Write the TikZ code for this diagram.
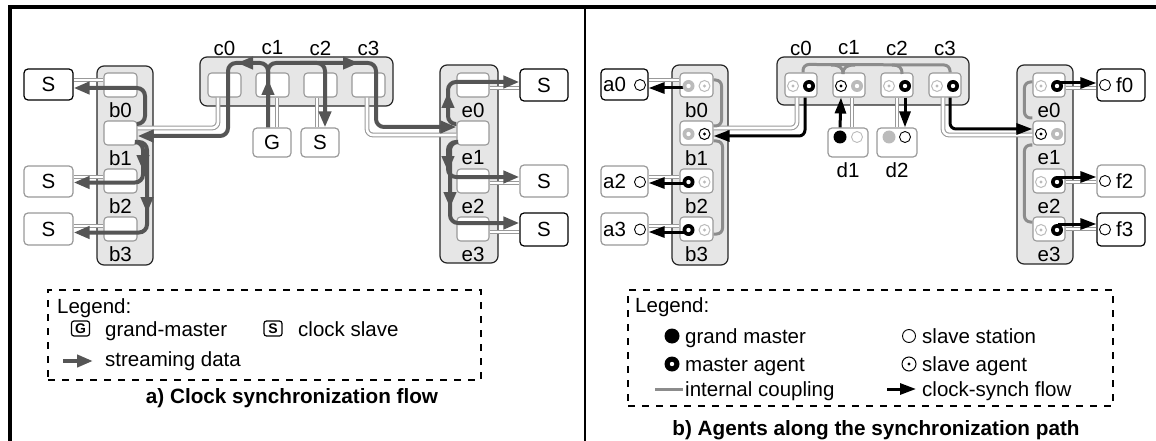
\documentclass[tikz,border=0pt]{standalone}
\usepackage{fontspec}
\setmainfont{Liberation Sans}
\usetikzlibrary{arrows.meta}
\definecolor{flowc}{HTML}{555555}
\definecolor{contfill}{HTML}{E6E6E6}
\definecolor{boxg}{HTML}{999999}
\definecolor{agray}{HTML}{BBBBBB}
\definecolor{coupc}{HTML}{8C8C8C}
\tikzset{
 txt/.style={font=\fontsize{20.5}{24}\selectfont},
 lab/.style={txt, inner sep=0pt},
 cont/.style={draw=black!85, fill=contfill, rounded corners=7pt, line width=1.2pt, inner sep=0pt},
 ibox/.style={draw=boxg, fill=white, rounded corners=3.5pt, line width=1.1pt, minimum width=33pt, minimum height=24pt, inner sep=0pt},
 stn/.style={txt, draw=black, fill=white, rounded corners=4pt, line width=1.2pt, minimum width=48pt, minimum height=31pt, inner sep=0pt},
 stng/.style={stn, draw=boxg},
 cable/.style={draw=boxg, double=white, double distance=2.6pt, line width=1.1pt, rounded corners=6pt},
 flow/.style={draw=flowc, line width=4pt, rounded corners=8pt, -{Triangle[length=16pt,width=12pt]}},
 fhead/.style={draw=flowc, line width=4pt, -{Triangle[length=16pt,width=12pt]}},
 synch/.style={draw=black, line width=3pt, rounded corners=6pt, -{Triangle[length=16pt,width=11pt]}},
 coup/.style={draw=coupc, line width=3pt, rounded corners=6pt},
 magent/.style={circle, fill=black, minimum size=12pt, inner sep=0pt, path picture={\fill[white] (path picture bounding box.center) circle (2.2pt);}},
 magentg/.style={magent, fill=agray},
 sagent/.style={circle, draw=black, line width=1pt, fill=white, minimum size=11pt, inner sep=0pt, path picture={\fill[black] (path picture bounding box.center) circle (1.6pt);}},
 sagentg/.style={circle, draw=agray, line width=1pt, fill=white, minimum size=11pt, inner sep=0pt, path picture={\fill[agray] (path picture bounding box.center) circle (1.6pt);}},
 gmaster/.style={circle, fill=black, minimum size=13pt, inner sep=0pt},
 sstation/.style={circle, draw=black, line width=0.9pt, fill=white, minimum size=11pt, inner sep=0pt},
 legbox/.style={draw=black, line width=1.6pt, dash pattern=on 7pt off 7pt, inner sep=0pt},
 icon/.style={draw=black, rounded corners=2.5pt, line width=1.2pt, minimum width=18pt, minimum height=15pt, inner sep=0pt, font=\bfseries\fontsize{14}{14}\selectfont},
 ttl/.style={font=\bfseries\fontsize{20.7}{24}\selectfont, inner sep=0pt},
}
\begin{document}
\begin{tikzpicture}[x=1pt,y=-1pt]
\useasboundingbox (0,0) rectangle (1156,441);
% frame
\draw[line width=4pt] (10,441) -- (10,7) -- (1156,7);
\draw[line width=1.2pt] (585,9) -- (585,441);

% ================= panel a =================
\node[cont, minimum width=56pt, minimum height=199pt] (bA) at (125,165.5) {};
\node[cont, minimum width=193pt, minimum height=49pt] (cA) at (296.5,81.5) {};
\node[cont, minimum width=58pt, minimum height=198pt] (eA) at (469,164) {};
\foreach \i/\y in {0/85,1/133,2/181,3/229}{
  \node[ibox] (ab\i) at (120.5,\y) {};
  \node[lab] (lab\i) at (120.5,\y+25) {b\i};
  \node[ibox, minimum width=32pt] (ae\i) at (473,\y) {};
  \node[lab] (lae\i) at (473,\y+25) {e\i};
}
\foreach \i/\x in {0/224.5,1/272.5,2/320.5,3/368.5}{
  \node[ibox] (ac\i) at (\x,85) {};
  \node[lab] (lac\i) at (\x,48) {c\i};
}
\node[stn, minimum width=49pt] (aS0) at (48.5,84.5) {S};
\node[stng, minimum width=49pt] (aS2) at (48.5,181.5) {S};
\node[stng, minimum width=49pt, minimum height=32pt] (aS3) at (48.5,229) {S};
\node[stng, minimum width=38pt, minimum height=29pt] (aG) at (272,142.5) {G};
\node[stng, minimum width=38pt, minimum height=29pt] (aSc) at (320,142.5) {S};
\node[stn, minimum height=32pt] (aSe0) at (544,85) {S};
\node[stng, minimum height=32pt] (aSe2) at (544,181) {S};
\node[stn, minimum height=33pt] (aSe3) at (544,229.5) {S};

% cables
\draw[cable] ([yshift=5pt]ab0.west) -- ([yshift=4.5pt]aS0.east);
\draw[cable] ([yshift=4pt]ab2.west) -- ([yshift=4.5pt]aS2.east);
\draw[cable] ([yshift=3pt]ab3.west) -- ([yshift=3pt]aS3.east);
\draw[cable] ([yshift=5pt]ab1.east) -| ([xshift=-6.5pt]ac0.south);
\draw[cable] ([xshift=5pt]aG.north) -- ([xshift=4.5pt]ac1.south);
\draw[cable] ([xshift=-3pt]aSc.north) -- ([xshift=-3.5pt]ac2.south);
\draw[cable] ([xshift=-1.5pt]ac3.south) |- ([yshift=-2pt]ae1.west);
\draw[cable] ([yshift=-3pt]ae0.east) -- ([yshift=-3pt]aSe0.west);
\draw[cable] ([yshift=-2pt]ae2.east) -- ([yshift=-2pt]aSe2.west);
\draw[cable] ([yshift=-3pt]ae3.east) -- ([yshift=-2.5pt]aSe3.west);

% streaming flows
\draw[flow] ([xshift=-4pt]aG.north) -- (268,63) -- (376,63) -- (376,127) -- ([yshift=6pt]ae1.west);
\draw[flow] (268,105) -- (268,63) -- (228,63) -- (228,136) -- ([yshift=-3pt]ab1.east);
\draw[flow] (300,63) -- (325,63) -- ([xshift=5pt]aSc.north);
\draw[fhead] (268,100) -- (268,79);
\draw[fhead] (256,63) -- (237,63);
\draw[fhead] (340,63) -- (359,63);
\draw[flow] ([yshift=9pt]ab1.east) -| (145,88) -- ([yshift=-3.5pt]aS0.east);
\draw[flow] ([yshift=-9pt]ab1.east) -| (143,182.5) -- ([yshift=-1pt]aS2.east);
\draw[flow] ([yshift=-9pt]ab1.east) -| (147,232.5) -- ([yshift=-3.5pt]aS3.east);
\draw[fhead] (143,150) -- (143,171);
\draw[fhead] (147,193) -- (147,213);
\draw[flow] ([yshift=9pt]ae1.west) -| (448,82) -- ([yshift=3pt]aSe0.west);
\draw[flow] ([yshift=-9pt]ae1.west) -| (448,177) -- ([yshift=4pt]aSe2.west);
\draw[flow] ([yshift=-9pt]ae1.west) -| (450,223) -- ([yshift=6.5pt]aSe3.west);
\draw[fhead] (448,110) -- (448,92);
\draw[fhead] (448,153) -- (448,172);
\draw[fhead] (450,190) -- (450,208);

% legend a
\node[legbox, minimum width=433pt, minimum height=90pt] (legA) at (264.5,335) {};
\node[lab, anchor=base west] (lgA) at (57,313) {Legend:};
\node[icon] (iG) at (80.5,328.5) {G};
\node[lab, anchor=base west] (tG) at (105,336) {grand-master};
\node[icon] (iS) at (273,328.5) {S};
\node[lab, anchor=base west] (tS) at (298,336) {clock slave};
\draw[fhead] (63,361) -- (93,361);
\node[lab, anchor=base west] (tF) at (105,366) {streaming data};
\node[ttl] (tA) at (292,398) {a) Clock synchronization flow};

% ================= panel b =================
\node[cont, minimum width=56pt, minimum height=200pt] (bB) at (700,165) {};
\node[cont, minimum width=192pt, minimum height=48pt] (cB) at (873,81) {};
\node[cont, minimum width=56pt, minimum height=199pt] (eB) at (1045,164.5) {};
\foreach \i/\y in {0/85,1/133,2/181,3/229}{
  \node[ibox] (bb\i) at (696.5,\y) {};
  \node[lab] (lbb\i) at (696.5,\y+25) {b\i};
  \node[ibox, minimum width=32pt] (be\i) at (1049,\y) {};
  \node[lab] (lbe\i) at (1049,\y+25) {e\i};
}
\foreach \i/\x in {0/801,1/849,2/897,3/945}{
  \node[ibox, minimum width=32pt] (bc\i) at (\x,85) {};
  \node[lab] (lbc\i) at (\x,48) {c\i};
}
\node[stn, minimum width=47pt] (a0) at (624.5,84.5) {};
\node[stng, minimum width=47pt] (a2) at (624.5,181.5) {};
\node[stng, minimum width=47pt, minimum height=32pt] (a3) at (624.5,229) {};
\node[stng, minimum width=40pt, minimum height=29pt] (d1) at (848,142.5) {};
\node[stng, minimum width=40pt, minimum height=29pt] (d2) at (897,142.5) {};
\node[stn, minimum height=32pt] (f0) at (1121,85) {};
\node[stng, minimum height=32pt] (f2) at (1121,181) {};
\node[stn, minimum height=33pt] (f3) at (1121,229.5) {};
\node[lab] (ld1) at (848,170) {d1};
\node[lab] (ld2) at (897,170) {d2};

% cables
\draw[cable] ([yshift=5pt]bb0.west) -- ([yshift=4.5pt]a0.east);
\draw[cable] ([yshift=4pt]bb2.west) -- ([yshift=4.5pt]a2.east);
\draw[cable] ([yshift=3pt]bb3.west) -- ([yshift=3pt]a3.east);
\draw[cable] ([xshift=-4pt]bc0.south) |- ([yshift=5pt]bb1.east);
\draw[cable] ([xshift=4pt]d1.north) -- ([xshift=3pt]bc1.south);
\draw[cable] (d2.north) -- (bc2.south);
\draw[cable] ([xshift=-2pt]bc3.south) |- ([yshift=-2pt]be1.west);
\draw[cable] ([yshift=-3pt]be0.east) -- ([yshift=-3pt]f0.west);
\draw[cable] ([yshift=-1pt]be2.east) -- ([yshift=-1pt]f2.west);
\draw[cable] (be3.east) -- ([yshift=0.5pt]f3.west);

% internal couplings
\draw[coup] ([yshift=5pt]bb0.east) -- ++(8,0) -- ++(0,46) -- ++(-8,0);
\draw[coup] ([yshift=-8pt]bb1.east) -- ++(9,0) -- ++(0,93) -- ++(-9,0);
\draw[coup] ([yshift=3pt]be0.west) -- ++(-8,0) -- ++(0,36) -- ++(8,0);
\draw[coup] ([yshift=-12pt]be1.west) -- ++(-8,0) -- ++(0,77) -- ++(8,0);
\draw[coup] ([xshift=2pt]bc0.north) -- ++(0,-8) -- (950,65) -- ([xshift=5pt]bc3.north);
\draw[coup] (831,65) .. controls (839,65) and (843,67) .. (843,74);
\draw[coup] (855,65) .. controls (847,65) and (843,67) .. (843,74);
\draw[coup] (892,65) .. controls (899,65) and (902,67) .. (902,74);

% clock synch flow
\draw[synch] ([xshift=4pt]bc0.south) |- ([yshift=-3pt]bb1.east);
\draw[synch] ([xshift=-8pt]d1.north) -- ([xshift=-8pt]bc1.south);
\draw[synch] ([xshift=8pt]bc2.south) -- ([xshift=8pt]d2.north);
\draw[synch] ([xshift=5pt]bc3.south) |- ([yshift=4pt]be1.west);
\draw[synch] ([xshift=8pt,yshift=-3pt]bb0.west) -- ([yshift=-3.5pt]a0.east);
\draw[synch] ([xshift=8pt,yshift=-2pt]bb2.west) -- ([yshift=-1.5pt]a2.east);
\draw[synch] ([xshift=8pt,yshift=-3pt]bb3.west) -- ([yshift=-3pt]a3.east);
\draw[synch] ([xshift=-8pt,yshift=2pt]be0.east) -- ([yshift=2pt]f0.west);
\draw[synch] ([xshift=-8pt,yshift=4pt]be2.east) -- ([yshift=4pt]f2.west);
\draw[synch] ([xshift=-8pt,yshift=5pt]be3.east) -- ([yshift=5.5pt]f3.west);

% agents
\node[magentg] (b0L) at (688.5,86) {}; \node[sagentg] (b0R) at (704.5,86) {};
\node[magentg] (b1L) at (688.5,134) {}; \node[sagent] (b1R) at (704.5,134) {};
\node[magent] (b2L) at (688.5,182) {}; \node[sagentg] (b2R) at (704.5,182) {};
\node[magent] (b3L) at (688.5,230) {}; \node[sagentg] (b3R) at (704.5,230) {};
\node[sagentg] (c0L) at (793,86) {}; \node[magent] (c0R) at (809,86) {};
\node[sagent] (c1L) at (841,86) {}; \node[magentg] (c1R) at (857,86) {};
\node[sagentg] (c2L) at (889,86) {}; \node[magent] (c2R) at (905,86) {};
\node[sagentg] (c3L) at (937,86) {}; \node[magent] (c3R) at (953,86) {};
\node[sagentg] (e0L) at (1041,86) {}; \node[magent] (e0R) at (1057,86) {};
\node[sagent] (e1L) at (1041,134) {}; \node[magentg] (e1R) at (1057,134) {};
\node[sagentg] (e2L) at (1041,182) {}; \node[magent] (e2R) at (1057,182) {};
\node[sagentg] (e3L) at (1041,230) {}; \node[magent] (e3R) at (1057,230) {};
\node[gmaster] (d1L) at (840,137) {}; \node[sstation, draw=agray] (d1R) at (857,137) {};
\node[gmaster, fill=agray] (d2L) at (889,137) {}; \node[sstation] (d2R) at (905,137) {};
% stations
\node[lab, anchor=west] (a0t) at (603,84.5) {a0}; \node[sstation] (a0c) at (640,85) {};
\node[lab, anchor=west] (a2t) at (603,181.5) {a2}; \node[sstation] (a2c) at (640,182) {};
\node[lab, anchor=west] (a3t) at (603,229) {a3}; \node[sstation] (a3c) at (640,229.5) {};
\node[sstation] (f0c) at (1105,85) {}; \node[lab, anchor=west] (f0t) at (1116,85) {f0};
\node[sstation] (f2c) at (1105,181) {}; \node[lab, anchor=west] (f2t) at (1116,181) {f2};
\node[sstation] (f3c) at (1105,229.5) {}; \node[lab, anchor=west] (f3t) at (1116,229.5) {f3};

% legend b
\node[legbox, minimum width=485pt, minimum height=116pt] (legB) at (870.5,348) {};
\node[lab, anchor=base west] (lgB) at (635,312) {Legend:};
\node[gmaster, minimum size=15pt] (kgm) at (672,336) {};
\node[lab, anchor=base west] (tgm) at (685,343) {grand master};
\node[sstation, minimum size=13pt] (kss) at (909,336) {};
\node[lab, anchor=base west] (tss) at (922,343) {slave station};
\node[magent, minimum size=15pt] (kma) at (672,364) {};
\node[lab, anchor=base west] (tma) at (685,371) {master agent};
\node[sagent, minimum size=14pt] (ksa) at (909,364) {};
\node[lab, anchor=base west] (tsa) at (922,371) {slave agent};
\draw[coup, rounded corners=0pt] (655,389) -- (683,389);
\node[lab, anchor=base west] (tic) at (685,396) {internal coupling};
\draw[synch] (887,389) -- (916,389);
\node[lab, anchor=base west] (tcs) at (922,396) {clock-synch flow};
\node[ttl] (tB) at (876,430) {b) Agents along the synchronization path};
\end{tikzpicture}
\end{document}
